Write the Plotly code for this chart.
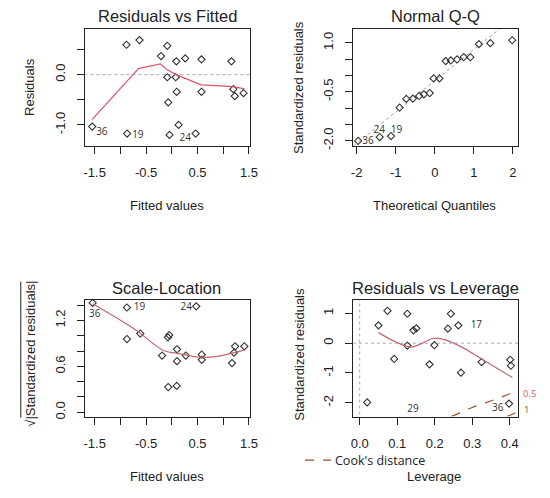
import plotly.graph_objects as go

W, H = 550, 498
PAD = 8  # default body margin of the html page

# ---- Residuals vs Fitted ----
fit_x = [-1.548, -0.882, -0.869, -0.629, -0.210, -0.089, -0.089, -0.070, -0.045, 0.088, 0.075,
         0.094, 0.132, 0.260, 0.463, 0.577, 0.577, 1.159, 1.197, 1.224, 1.395]
fit_res = [-1.034, 0.593, -1.172, 0.686, 0.369, 0.573, -0.053, -0.553, -1.199, 0.263, -0.053,
           -0.342, -1.001, 0.322, -1.172, 0.303, -0.342, 0.263, -0.290, -0.428, -0.369]
fit_smooth_x = [-1.548, -0.648, -0.222, -0.096, 0.082, 0.570, 1.034, 1.224, 1.414]
fit_smooth_y = [-0.889, 0.119, 0.211, 0.099, 0.0, -0.204, -0.231, -0.244, -0.283]
fit_lab = ["36", "19", "24"]
fit_lab_x = [-1.36, -0.66, 0.26]
fit_lab_y = [-1.15, -1.22, -1.27]

# ---- Normal Q-Q ----
qq_theo = [-1.96, -1.41, -1.12, -0.90, -0.73, -0.56, -0.40, -0.28, -0.13, -0.03,
           0.12, 0.28, 0.41, 0.57, 0.74, 0.91, 1.13, 1.42, 1.98]
qq_std = [-2.01, -1.89, -1.86, -0.99, -0.72, -0.71, -0.63, -0.58, -0.54, -0.09,
          -0.09, 0.44, 0.46, 0.49, 0.56, 0.56, 0.96, 0.99, 1.08]
qq_slope, qq_icpt = 0.96, -0.163
qq_lab = ["36", "24", "19"]
qq_lab_x = [-1.71, -1.42, -0.98]
qq_lab_y = [-2.03, -1.68, -1.70]

# ---- Scale-Location ----
sl_x = [-1.54, -0.873, -0.873, -0.614, -0.19, -0.076, -0.05, -0.07, 0.101, 0.101,
        0.095, 0.272, 0.475, 0.582, 0.582, 1.17, 1.21, 1.23, 1.41]
sl_y = [1.43, 1.37, 0.958, 1.03, 0.742, 0.98, 1.01, 0.33, 0.824, 0.669,
        0.345, 0.742, 1.385, 0.755, 0.686, 0.643, 0.78, 0.863, 0.863]
sl_smooth_x = [-1.54, -0.73, -0.158, 0.095, 0.538, 0.854, 1.17, 1.42]
sl_smooth_y = [1.42, 1.09, 0.807, 0.773, 0.72, 0.729, 0.773, 0.816]
sl_lab = ["36", "19", "24"]
sl_lab_x = [-1.50, -0.63, 0.28]
sl_lab_y = [1.28, 1.364, 1.368]

# ---- Residuals vs Leverage ----
lev_h = [0.020, 0.050, 0.074, 0.092, 0.127, 0.127, 0.143, 0.151, 0.186, 0.199,
         0.235, 0.243, 0.263, 0.270, 0.325, 0.398, 0.401, 0.403]
lev_res = [-1.99, 0.60, 1.09, -0.53, 0.99, -0.078, 0.433, 0.50, -0.71, -0.067,
           0.489, 0.99, 0.60, -0.99, -0.633, -2.03, -0.556, -0.756]
lev_smooth_x = [0.050, 0.098, 0.137, 0.163, 0.198, 0.228, 0.272, 0.324, 0.368, 0.407]
lev_smooth_y = [0.356, 0.033, -0.133, -0.022, 0.167, 0.111, -0.133, -0.522, -0.856, -1.156]
cook05_x = [0.245, 0.27, 0.30, 0.337, 0.37, 0.40, 0.424]
cook05_y = [-2.46, -2.33, -2.16, -2.0, -1.85, -1.70, -1.60]
cook1_x = [0.394, 0.41, 0.424]
cook1_y = [-2.46, -2.37, -2.29]
lev_lab = ["17", "29", "36"]
lev_lab_x = [0.311, 0.142, 0.368]
lev_lab_y = [0.578, -2.22, -2.19]

PT = "#333333"
RED = "#DF536B"
RED2 = "#C0676E"
BROWN = "#A0522D"

fig = go.Figure()


def pts(x, y, ax):
    fig.add_trace(go.Scatter(x=x, y=y, mode="markers", xaxis="x" + ax, yaxis="y" + ax,
                             marker=dict(symbol="diamond-open", size=5.5, color=PT,
                                         line=dict(width=1.1, color=PT)),
                             showlegend=False, hoverinfo="skip"))


def line(x, y, ax, color, dash="solid", width=1.2):
    fig.add_trace(go.Scatter(x=x, y=y, mode="lines", xaxis="x" + ax, yaxis="y" + ax,
                             line=dict(color=color, width=width, dash=dash, shape="spline"),
                             showlegend=False, hoverinfo="skip"))


def labels(x, y, t, ax):
    fig.add_trace(go.Scatter(x=x, y=y, text=t, mode="text", xaxis="x" + ax, yaxis="y" + ax,
                             textfont=dict(family="Open Sans", size=10, color="#333333"),
                             showlegend=False, hoverinfo="skip"))


# panel 1
fig.add_trace(go.Scatter(x=[-1.7, 1.55], y=[0, 0], mode="lines", xaxis="x", yaxis="y",
                         line=dict(color="#aaaaaa", width=1, dash="dot"), showlegend=False))
pts(fit_x, fit_res, "")
fig.add_trace(go.Scatter(x=fit_smooth_x, y=fit_smooth_y, mode="lines", xaxis="x", yaxis="y",
                         line=dict(color=RED, width=1.2), showlegend=False))
labels(fit_lab_x, fit_lab_y, fit_lab, "")

# panel 2
qx = [-2.2, 2.2]
fig.add_trace(go.Scatter(x=qx, y=[qq_icpt + qq_slope * v for v in qx], mode="lines",
                         xaxis="x2", yaxis="y2",
                         line=dict(color="#999999", width=1, dash="dot"), showlegend=False))
pts(qq_theo, qq_std, "2")
labels(qq_lab_x, qq_lab_y, qq_lab, "2")

# panel 3
pts(sl_x, sl_y, "3")
line(sl_smooth_x, sl_smooth_y, "3", RED2)
labels(sl_lab_x, sl_lab_y, sl_lab, "3")

# panel 4
fig.add_trace(go.Scatter(x=[-0.05, 0.45], y=[0, 0], mode="lines", xaxis="x4", yaxis="y4",
                         line=dict(color="#aaaaaa", width=1, dash="dot"), showlegend=False))
fig.add_trace(go.Scatter(x=[0, 0], y=[-3, 2], mode="lines", xaxis="x4", yaxis="y4",
                         line=dict(color="#aaaaaa", width=1, dash="dot"), showlegend=False))
pts(lev_h, lev_res, "4")
line(lev_smooth_x, lev_smooth_y, "4", RED2)
line(cook05_x, cook05_y, "4", BROWN, dash="dash")
line(cook1_x, cook1_y, "4", BROWN, dash="dash")
labels(lev_lab_x, lev_lab_y, lev_lab, "4")

FW, FH = W - 2 * PAD, H - 2 * PAD


def px(v):
    return (v - PAD) / FW


def py(v):
    return 1 - (v - PAD) / FH


def xax(dom, rng, tv, tt):
    return dict(domain=[px(dom[0]), px(dom[1])], range=rng, tickvals=tv, ticktext=tt,
                ticks="outside", ticklen=7, tickcolor="#222", showgrid=False, zeroline=False,
                showline=True, mirror=True, linecolor="#222", linewidth=1,
                tickfont=dict(family="Liberation Sans", size=13, color="#222"),
                ticklabelstandoff=8, fixedrange=True)


def yax(dom, rng, tv, tt, anchor):
    d = xax((PAD, W - PAD), rng, tv, tt)
    d["domain"] = [py(dom[1]), py(dom[0])]
    d["tickangle"] = -90
    d["ticklabelstandoff"] = 7
    d["anchor"] = anchor
    return d


L = (84, 252)
R = (357.7, 525.7)
T = (29, 147)
B = (302.3, 420)

t1 = [-1.5, -1, -0.5, 0, 0.5, 1, 1.5]
l1 = ["-1.5", "", "-0.5", "", "0.5", "", "1.5"]

fig.update_layout(
    width=FW, height=FH, margin=dict(l=0, r=0, t=0, b=0),
    paper_bgcolor="white", plot_bgcolor="white", showlegend=False,
    xaxis=xax(L, [-1.68, 1.52], t1, l1) | dict(anchor="y"),
    yaxis=yax(T, [-1.417, 0.91], [-1.0, -0.5, 0.0, 0.5], ["-1.0", "", "0.0", ""], "x"),
    xaxis2=xax(R, [-2.08, 2.13], [-2, -1, 0, 1, 2], ["-2", "-1", "0", "1", "2"]) | dict(anchor="y2"),
    yaxis2=yax(T, [-2.16, 1.43], [-2, -1.5, -1, -0.5, 0, 0.5, 1],
               ["-2.0", "", "", "-0.5", "", "", "1.0"], "x2"),
    xaxis3=xax(L, [-1.68, 1.52], t1, l1) | dict(anchor="y3"),
    yaxis3=yax(B, [-0.056, 1.47], [0, 0.2, 0.4, 0.6, 0.8, 1.0, 1.2, 1.4],
               ["0.0", "", "", "0.6", "", "", "1.2", ""], "x3"),
    xaxis4=xax(R, [-0.0165, 0.422], [0, 0.1, 0.2, 0.3, 0.4],
               ["0.0", "0.1", "0.2", "0.3", "0.4"]) | dict(anchor="y4"),
    yaxis4=yax(B, [-2.467, 1.457], [-2, -1, 0, 1], ["-2", "-1", "0", "1"], "x4"),
)

ann = []


def text(s, x, y, size, angle=0, family="Liberation Sans", color="#222", xanchor="center"):
    ann.append(dict(text=s, x=px(x), y=py(y), xref="paper", yref="paper", showarrow=False,
                    textangle=angle, xanchor=xanchor, yanchor="middle",
                    font=dict(family=family, size=size, color=color)))


text("Residuals vs Fitted", 168, 16, 16.5)
text("Normal Q-Q", 441, 16, 16.5)
text("Scale-Location", 167, 290, 16.5)
text("Residuals vs Leverage", 441, 290, 16.5)

text("Fitted values", 167, 207, 13)
text("Theoretical Quantiles", 440, 207, 13)
text("Fitted values", 167, 480, 13)
text("Leverage", 440, 480, 13)

text("Residuals", 27, 88, 13, -90)
text("Standardized residuals", 301.7, 88, 13, -90)
text("√|Standardized residuals|", 27, 357, 13, -90)
text("Standardized residuals", 301.7, 357, 13, -90)

text("0.5", 529, 396.7, 9.5, family="Open Sans", color="#D9604A", xanchor="left")
text("1", 530, 413, 9.5, family="Open Sans", color=BROWN, xanchor="left")
text("Cook's distance", 336.5, 464, 12.5, family="Open Sans", color="#222", xanchor="left")

fig.update_layout(annotations=ann)
fig.add_shape(type="line", xref="paper", yref="paper", x0=px(308.3), x1=px(335),
              y0=py(464), y1=py(464), line=dict(color=BROWN, width=1.2, dash="dash"))
# overbar of the square root in the Scale-Location axis title
fig.add_shape(type="line", xref="paper", yref="paper", x0=px(18), x1=px(18),
              y0=py(284), y1=py(421), line=dict(color="#222", width=1))

fig.write_html("out.html")
